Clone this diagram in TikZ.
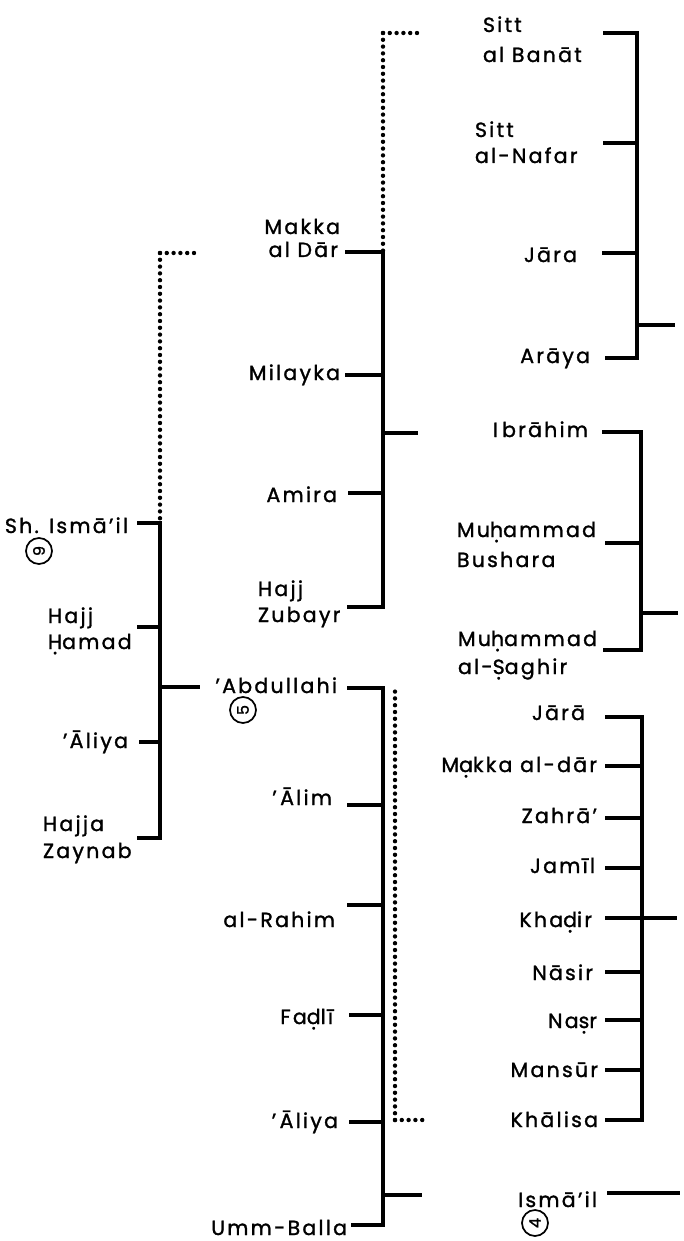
\documentclass[tikz,border=0pt]{standalone}
\usepackage{fontspec}
\setmainfont{Poppins}[LetterSpace=11,FakeBold=1.4]
% dot placed under a letter (transliteration of emphatic consonants)
\newcommand\udot[1]{\oalign{#1\crcr\hidewidth.\hidewidth}}

\begin{document}
\begin{tikzpicture}[x=1pt,y=-1pt,
  every node/.style={inner sep=0pt,outer sep=0pt},
  nm/.style={font=\fontsize{20.5}{24}\selectfont},
  re/.style={nm,anchor=base east},
  le/.style={nm,anchor=base west},
  ln/.style={line width=3.4pt},
  dots/.style={line width=4.4pt,line cap=round,dash pattern=on 0pt off 6.8pt},
  ring/.style={circle,draw,line width=1.7pt,minimum size=26pt,
               font=\fontsize{16}{16}\selectfont,rotate=90}
]
\useasboundingbox (0,0) rectangle (683,1241);

% ---------------- first generation (left bracket)
\coordinate (Ax) at (160,0);
\coordinate (A1) at (137,523);
\coordinate (A2) at (137,627);
\coordinate (A3) at (139,742);
\coordinate (A4) at (137,838);
\coordinate (Aout) at (200,687);
\coordinate (Adot) at (160,253);
\coordinate (Adotend) at (199,253);
\draw[ln] (A1) -- (A1 -| Ax) -- (A4 -| Ax) -- (A4);
\draw[ln] (A2) -- (A2 -| Ax);
\draw[ln] (A3) -- (A3 -| Ax);
\draw[ln] (Aout -| Ax) -- (Aout);
\draw[dots] (Adot) -- (A1 -| Ax);
\draw[dots] (Adot) -- (Adotend);

\node[re] (tA1) at (128,533) {Sh. Ismā'il};
\node[ring] (rA1) at (39,551) {9};
\node[le] (tA2a) at (48,623) {Hajj};
\node[le] (tA2b) at (48,649) {\udot{H}amad};
\node[re] (tA3) at (128,748) {'Āliya};
\node[le] (tA4a) at (43,831) {Hajja};
\node[le] (tA4b) at (43,858) {Zaynab};

% ---------------- children of Sh. Isma'il
\coordinate (Bx) at (383,0);
\coordinate (B1) at (345,252);
\coordinate (B2) at (345,375);
\coordinate (B3) at (348,493);
\coordinate (B4) at (347,607);
\coordinate (Bout) at (418,433);
\coordinate (Bdot) at (383,33);
\coordinate (Bdotend) at (421,33);
\draw[ln] (B1) -- (B1 -| Bx) -- (B4 -| Bx) -- (B4);
\draw[ln] (B2) -- (B2 -| Bx);
\draw[ln] (B3) -- (B3 -| Bx);
\draw[ln] (Bout -| Bx) -- (Bout);
\draw[dots] (Bdot) -- (B1 -| Bx);
\draw[dots] (Bdot) -- (Bdotend);

\node[re] (tB1a) at (340,234) {Makka};
\node[re] (tB1b) at (338,257) {al Dār};
\node[re] (tB2) at (340,380) {Milayka};
\node[re] (tB3) at (337,502) {Amira};
\node[le] (tB4a) at (258,596) {Hajj};
\node[le] (tB4b) at (258,622) {Zubayr};

% ---------------- children of 'Abdullahi's generation
\coordinate (Cx) at (383,0);
\coordinate (C1) at (347,688);
\coordinate (C2) at (347,805);
\coordinate (C3) at (347,905);
\coordinate (C4) at (349,1015);
\coordinate (C5) at (349,1122);
\coordinate (C6) at (351,1225);
\coordinate (Cout) at (422,1195);
\coordinate (Cdottop) at (395,689);
\coordinate (Cdot) at (395,1120);
\coordinate (Cdotend) at (428,1120);
\draw[ln] (C1) -- (C1 -| Cx) -- (C6 -| Cx) -- (C6);
\draw[ln] (C2) -- (C2 -| Cx);
\draw[ln] (C3) -- (C3 -| Cx);
\draw[ln] (C4) -- (C4 -| Cx);
\draw[ln] (C5) -- (C5 -| Cx);
\draw[ln] (Cout -| Cx) -- (Cout);
\draw[dots] (Cdot) -- (Cdottop);
\draw[dots] (Cdot) -- (Cdotend);

\node[re] (tC1) at (337,693) {'Abdullahi};
\node[ring] (rC1) at (243,710) {5};
\node[re] (tC2) at (332,805) {'\,Ālim};
\node[re] (tC3) at (335,927) {al-Rahim};
\node[re] (tC4) at (333,1024) {Fa\udot{d}lī};
\node[re] (tC5) at (338,1128) {'\,Āliya};
\node[re] (tC6) at (347,1235) {Umm-Balla};

% ---------------- children of Makka al Dar
\coordinate (Dx) at (637,0);
\coordinate (D1) at (603,33);
\coordinate (D2) at (603,143);
\coordinate (D3) at (602,253);
\coordinate (D4) at (605,358);
\coordinate (Dout) at (675,325);
\draw[ln] (D1) -- (D1 -| Dx) -- (D4 -| Dx) -- (D4);
\draw[ln] (D2) -- (D2 -| Dx);
\draw[ln] (D3) -- (D3 -| Dx);
\draw[ln] (Dout -| Dx) -- (Dout);

\node[le] (tD1a) at (483,32) {Sitt};
\node[le] (tD1b) at (483,62) {al Banāt};
\node[le] (tD2a) at (475,137) {Sitt};
\node[le] (tD2b) at (475,163) {al-Nafar};
\node[re] (tD3) at (577,262) {Jāra};
\node[re] (tD4) at (590,363) {Arāya};

% ---------------- children of Amira
\coordinate (Ex) at (641,0);
\coordinate (E1) at (602,432);
\coordinate (E2) at (605,543);
\coordinate (E3) at (603,650);
\coordinate (Eout) at (678,613);
\draw[ln] (E1) -- (E1 -| Ex) -- (E3 -| Ex) -- (E3);
\draw[ln] (E2) -- (E2 -| Ex);
\draw[ln] (Eout -| Ex) -- (Eout);

\node[re] (tE1) at (588,437) {I\hspace{4pt}brāhim};
\node[le] (tE2a) at (457,537) {Mu\udot{h}ammad};
\node[le] (tE2b) at (457,567) {Bushara};
\node[le] (tE3a) at (458,646) {Mu\udot{h}ammad};
\node[le] (tE3b) at (458,674) {al-\udot{S}aghir};

% ---------------- children of 'Abdullahi
\coordinate (Fx) at (642,0);
\coordinate (F1) at (605,717);
\coordinate (F2) at (605,766);
\coordinate (F3) at (605,818);
\coordinate (F4) at (605,868);
\coordinate (F5) at (605,918);
\coordinate (F6) at (605,972);
\coordinate (F7) at (605,1020);
\coordinate (F8) at (605,1070);
\coordinate (F9) at (605,1120);
\coordinate (Fout) at (677,918);
\draw[ln] (F1) -- (F1 -| Fx) -- (F9 -| Fx) -- (F9);
\foreach \k in {2,...,8} \draw[ln] (F\k) -- (F\k -| Fx);
\draw[ln] (F5 -| Fx) -- (Fout);

\node[re] (tF1) at (585,720) {Jārā};
\node[re] (tF2) at (597,772) {M\udot{a}kka al-dār};
\node[re] (tF3) at (597,823) {Zahrā'};
\node[re] (tF4) at (595,873) {Jamīl};
\node[re] (tF5) at (592,927) {Kha\udot{d}ir};
\node[re] (tF6) at (593,980) {Nāsir};
\node[re] (tF7) at (597,1028) {Na\udot{s}r};
\node[re] (tF8) at (598,1077) {Mansūr};
\node[re] (tF9) at (598,1127) {Khālisa};

% ---------------- son of Umm-Balla
\coordinate (G1) at (607,1193);
\coordinate (G2) at (680,1193);
\draw[ln] (G1) -- (G2);
\node[re] (tG) at (597,1207) {Ismā'il};
\node[ring] (rG) at (535,1223) {4};

\end{tikzpicture}
\end{document}
